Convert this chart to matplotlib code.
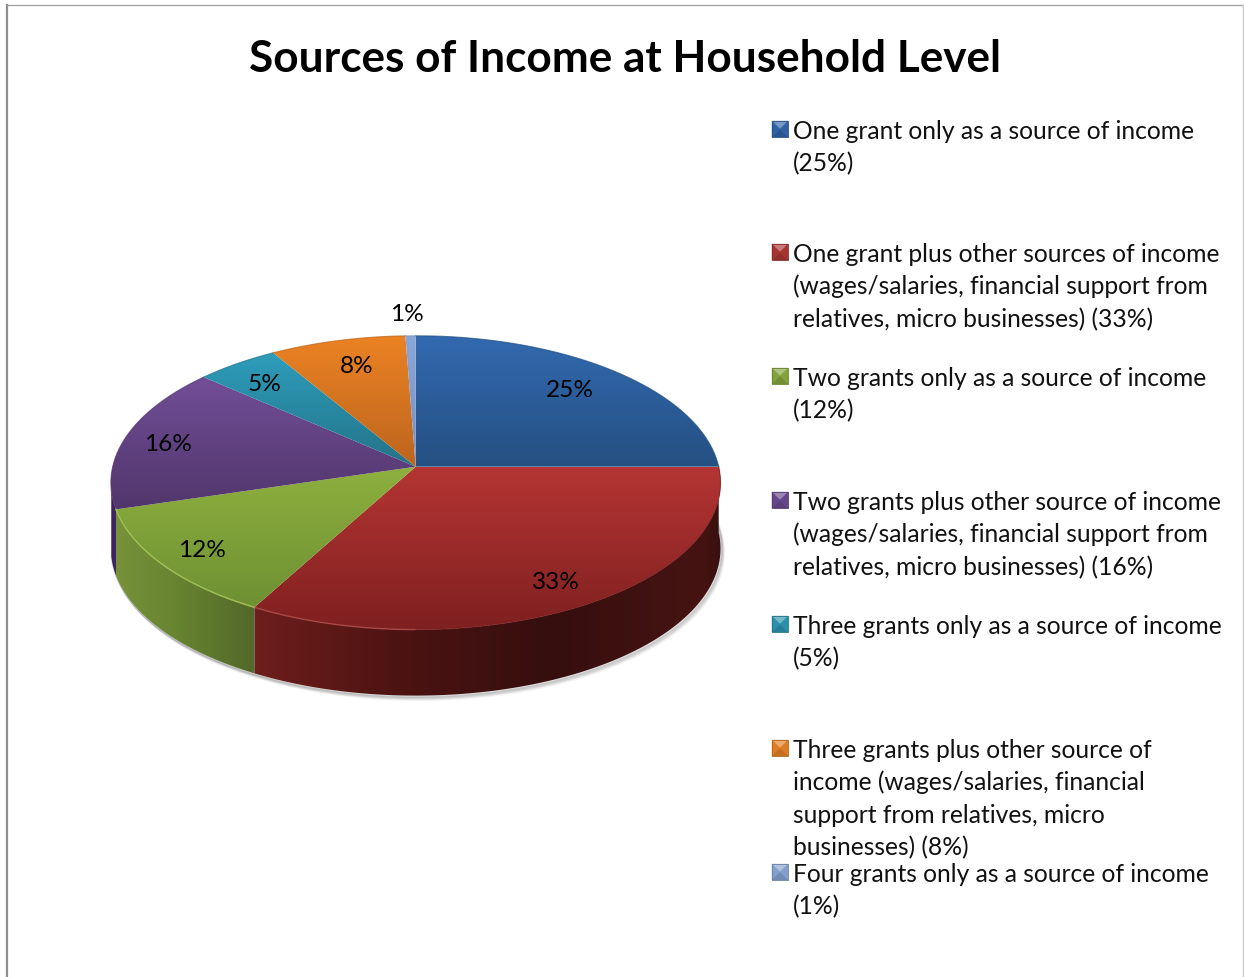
import matplotlib
matplotlib.use("Agg")
import matplotlib.pyplot as plt
import numpy as np
from matplotlib.patches import Polygon, Rectangle

plt.rcParams["font.family"] = ["Lato", "DejaVu Sans"]

TITLE = "Sources of Income at Household Level"

# slice sizes, they differ a little from the printed labels
shares = [25.0, 33.0, 12.4, 16.1, 4.9, 8.0, 0.6]
pct_labels = ["25%", "33%", "12%", "16%", "5%", "8%", "1%"]
legend_lines = [
    ["One grant only as a source of income", "(25%)"],
    ["One grant plus other sources of income", "(wages/salaries, financial support from",
     "relatives, micro businesses) (33%)"],
    ["Two grants only as a source of income", "(12%)"],
    ["Two grants plus other source of income", "(wages/salaries, financial support from",
     "relatives, micro businesses) (16%)"],
    ["Three grants only as a source of income", "(5%)"],
    ["Three grants plus other source of", "income (wages/salaries, financial",
     "support from relatives, micro", "businesses) (8%)"],
    ["Four grants only as a source of income", "(1%)"],
]

# (top colour, bottom colour) of the pie face
face_top = ["#3269AF", "#B43533", "#8DB03E", "#724E98", "#2E9DBB", "#EB8223", "#8AA7D8"]
face_bot = ["#255082", "#7F2020", "#6F9033", "#51366B", "#237388", "#BC651E", "#7890BE"]
legend_base = ["#2F62A4", "#A83432", "#82A23A", "#67468C", "#2B90AC", "#E07D22", "#829FCE"]
# side wall colour stops (x px, colour)
side_stops = {
    1: [(255, "#6E1E1C"), (400, "#4C1312"), (550, "#360E0E"), (700, "#451412"), (720, "#3A100E")],
    2: [(116, "#77923A"), (180, "#668330"), (255, "#536829")],
    3: [(110, "#3C2460"), (120, "#3C2460")],
}

# layout, px
CX, CY = 415.7, 467.7
RX, RY, PERSP = 303.0, 145.2, 0.1087
DEPTH = 66.0
LABEL_XY = [(570, 389), (556, 581), (202, 549), (168, 443), (265, 383), (357, 365), (407, 313)]
LEG_Y = [130, 253, 377, 501, 625, 749, 873]


def project(theta, r=1.0):
    """theta: radians clockwise from the top of the pie."""
    u, v = r * np.sin(theta), r * np.cos(theta)
    w = 1 + PERSP * v
    return CX + RX * u / w, CY - RY * v / w


def rgb(c):
    return np.array(matplotlib.colors.to_rgb(c))


def mix(c, other, t):
    return tuple(rgb(c) * (1 - t) + rgb(other) * t)


def fill_gradient(ax, xy, img, extent, zorder):
    patch = Polygon(xy, closed=True, transform=ax.transData, fc="none", ec="none")
    ax.add_patch(patch)
    im = ax.imshow(img, extent=extent, aspect="auto", interpolation="bilinear", zorder=zorder)
    im.set_clip_path(patch)


fig = plt.figure(figsize=(12.44, 9.78), dpi=100)
ax = fig.add_axes([0, 0, 1, 1])

edges = np.cumsum([0] + shares) / sum(shares) * 2 * np.pi

# soft shadow under the wall
tt = np.linspace(np.pi * 0.42, np.pi * 1.45, 300)
sx, sy = project(tt)
for off, al in [(4.0, 0.06), (3.0, 0.09), (2.0, 0.13), (1.0, 0.16)]:
    ax.plot(sx + off * 0.8, sy + DEPTH + off, color="#404040", alpha=al, lw=2, zorder=1)

# side walls
for i, stops in side_stops.items():
    a0 = max(edges[i], np.pi / 2)
    a1 = min(edges[i + 1], np.pi * 1.45)
    t = np.linspace(a0, a1, 200)
    x, y = project(t)
    xy = np.r_[np.c_[x, y], np.c_[x[::-1], y[::-1] + DEPTH]]
    xs = np.array([s[0] for s in stops], float)
    cols = np.array([rgb(s[1]) for s in stops])
    grid = np.arange(int(x.min()) - 2, int(x.max()) + 3)
    img = np.stack([np.interp(grid, xs, cols[:, k]) for k in range(3)], axis=-1)[None, :, :]
    fill_gradient(ax, xy, img, (grid[0], grid[-1], xy[:, 1].max() + 1, xy[:, 1].min() - 1), 2)

# top faces
for i in range(len(shares)):
    t = np.linspace(edges[i], edges[i + 1], 200)
    x, y = project(t)
    xy = np.r_[[[CX, CY]], np.c_[x, y]]
    y0, y1 = xy[:, 1].min(), xy[:, 1].max()
    ramp = np.linspace(0, 1, 64)[:, None, None]
    img = rgb(face_top[i])[None, None, :] * (1 - ramp) + rgb(face_bot[i])[None, None, :] * ramp
    fill_gradient(ax, xy, img, (xy[:, 0].min() - 2, xy[:, 0].max() + 2, y1, y0), 3)
    ax.plot(xy[1:, 0], xy[1:, 1], color=face_bot[i], lw=0.8, alpha=0.7, zorder=4)

# bright rim on the front edge
for i, col, al in [(2, "#A9C85C", 0.8), (1, "#D06A60", 0.45)]:
    t = np.linspace(edges[i], edges[i + 1], 200)
    if i == 1:
        t = t[t > np.pi * 1.0]
    x, y = project(t)
    ax.plot(x, y, color=col, lw=1.1, alpha=al, zorder=5)

for (x, y), lab in zip(LABEL_XY, pct_labels):
    ax.text(x, y + 1.3, lab, ha="center", va="center", fontsize=17.6, color="black", zorder=6)

ax.text(625, 71.5, TITLE, ha="center", va="baseline", fontsize=31.8, fontweight="bold", color="black")

# legend: bevelled square + wrapped lines
for lines, ym, base in zip(legend_lines, LEG_Y, legend_base):
    x0, x1, y0, y1 = 772, 788, ym - 8, ym + 8
    xc, yc = (x0 + x1) / 2, (y0 + y1) / 2
    tri = [
        ([(x0, y0), (x1, y0), (xc, yc)], mix(base, "white", 0.35)),
        ([(x0, y0), (x0, y1), (xc, yc)], base),
        ([(x1, y0), (x1, y1), (xc, yc)], base),
        ([(x0, y1), (x1, y1), (xc, yc)], mix(base, "black", 0.12)),
    ]
    for pts, col in tri:
        ax.add_patch(Polygon(pts, closed=True, fc=col, ec=col, lw=0.3, zorder=3))
    ax.add_patch(Rectangle((x0, y0), x1 - x0, y1 - y0, fc="none", ec=mix(base, "black", 0.2), lw=0.6, zorder=4))
    for j, line in enumerate(lines):
        ax.text(792.6, ym + 8.8 + j * 32.6, line, ha="left", va="baseline", fontsize=17.75, color="#111111")

# chart frame, only the outer border lines
ax.plot([7, 7], [978, 5.5], color="#8C8C8C", lw=1.6, zorder=7)
ax.plot([7, 1243], [5.5, 5.5], color="#A0A0A0", lw=0.9, zorder=7)
ax.plot([1243.3, 1243.3], [5.5, 978], color="#C8C8C8", lw=1.0, zorder=7)

ax.set_xlim(0, 1244)
ax.set_ylim(978, 0)
ax.axis("off")
fig.savefig("out.png", dpi=100)
